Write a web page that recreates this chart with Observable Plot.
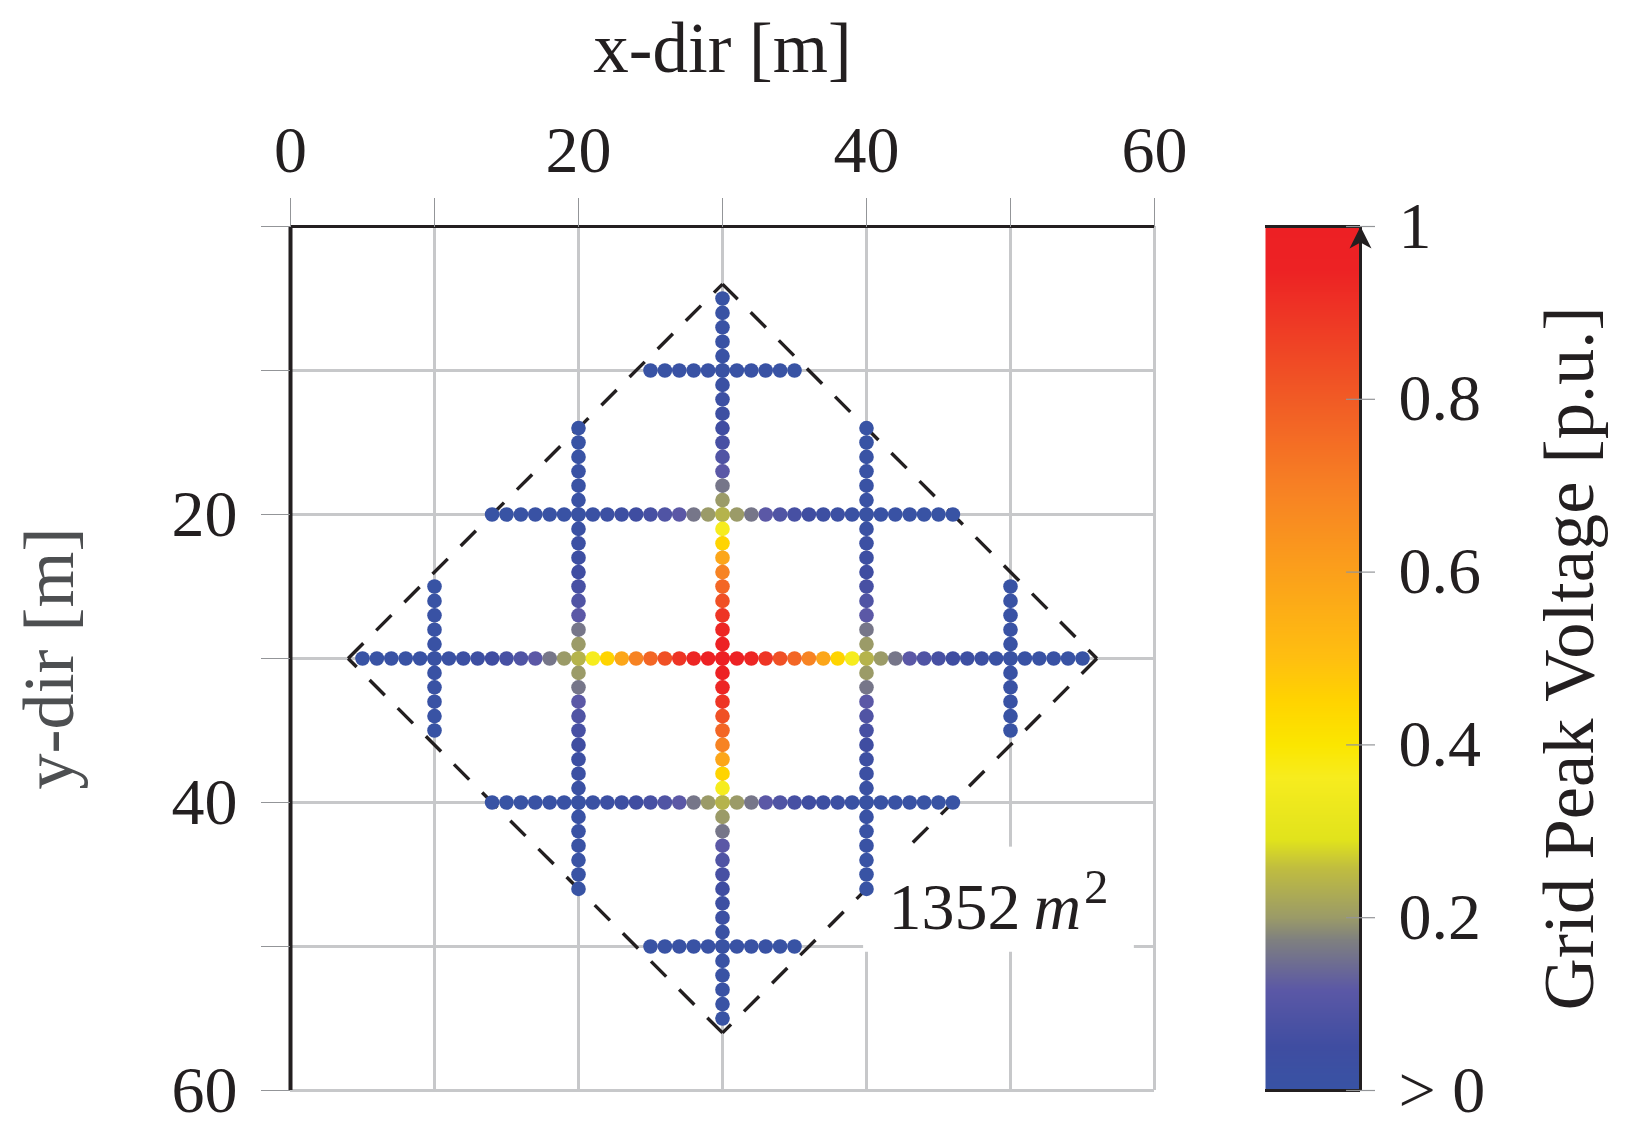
<!DOCTYPE html>
<html>
<head>
<meta charset="utf-8">
<script src="https://cdn.jsdelivr.net/npm/d3@7"></script>
<script src="https://cdn.jsdelivr.net/npm/@observablehq/plot@0.6"></script>
<style>
  html, body { margin: 0; padding: 0; background: white; }
  #chart { position: relative; width: 1634px; height: 1143px; overflow: hidden; }
  #chart svg { position: absolute; top: 0; }
  #chart svg text { font-family: "Liberation Serif", serif; }
</style>
</head>
<body>
<div id="chart"></div>
<script>
/* Var. globales */
const ink = '#231f20'
const gridGray = '#c7c8ca'
const tickGray = '#939598'
const fontSize = 66

// grid and ticks
const gridTicks = [0, 10, 20, 30, 40, 50, 60]
const labelledTicks = [20, 40, 60]

// conductor runs of the lightning grid, fixed coordinate + start/end (metres)
const rowsY = [30, 20, 40, 10, 50]
const rowsFrom = [5, 14, 14, 25, 25]
const rowsTo = [55, 46, 46, 35, 35]
const colsX = [30, 20, 40, 10, 50]
const colsFrom = [5, 14, 14, 25, 25]
const colsTo = [55, 46, 46, 35, 35]

// peak voltage read by path distance (m) from the injection point at 30,30
const voltageByDistance = [
  1, 0.97, 0.94, 0.9, 0.83, 0.77, 0.69, 0.58, 0.45, 0.36,
  0.24, 0.2, 0.16, 0.116, 0.09, 0.07, 0.05, 0.035, 0.025, 0.015,
  0.01, 0.008, 0.006, 0.005, 0.004, 0.003, 0.002
]

// dashed outline
const diamondX = [30, 56, 30, 4, 30]
const diamondY = [4, 30, 56, 30, 4]

// colour bar
const colorStops = [0, 0.05, 0.116, 0.174, 0.2, 0.257, 0.29, 0.362, 0.4, 0.45, 0.5, 0.6, 0.7, 0.8, 0.9, 0.95, 1]
const colorValues = ['#3853a4', '#3f4da1', '#5b58a6', '#7f8080', '#9b9b68', '#c0bd40', '#e1e31c', '#f7ec1e', '#fbe600',
  '#ffd400', '#ffbf10', '#fba01b', '#f78024', '#f15b25', '#ee3525', '#ed2224', '#ed2024']
const barTicks = [0, 0.2, 0.4, 0.6, 0.8, 1]

// white patch behind the area label
const patchX = [39.8, 58.6]
const patchY = [43.1, 50.4]

const colorScale = {type: 'linear', domain: colorStops, range: colorValues, interpolate: 'rgb'}

function buildNodes() {
  const nodes = []
  const add = (x, y) => nodes.push({x, y, v: voltageByDistance[Math.abs(x - 30) + Math.abs(y - 30)]})
  rowsY.forEach((y, i) => d3.range(rowsFrom[i], rowsTo[i] + 1).forEach(x => add(x, y)))
  colsX.forEach((x, i) => d3.range(colsFrom[i], colsTo[i] + 1).forEach(y => add(x, y)))
  // lowest first so the hot nodes stay on top at the crossings
  return nodes.sort((a, b) => a.v - b.v)
}

function createMap() {
  const edges = d3.pairs(d3.zip(diamondX, diamondY))
  return Plot.plot({
    width: 1200,
    height: 1143,
    marginLeft: 290,
    marginRight: 46,
    marginTop: 226,
    marginBottom: 53,
    style: {background: 'transparent', overflow: 'visible'},
    x: {domain: [0, 60]},
    y: {domain: [0, 60], reverse: true},
    color: colorScale,
    marks: [
      Plot.ruleX(gridTicks.slice(1), {y1: 0, y2: 60, stroke: gridGray, strokeWidth: 3}),
      Plot.ruleY(gridTicks.slice(1), {x1: 0, x2: 60, stroke: gridGray, strokeWidth: 3}),
      Plot.link(edges, {
        x1: d => d[0][0], y1: d => d[0][1],
        x2: d => d[1][0], y2: d => d[1][1],
        stroke: ink, strokeWidth: 3.4, strokeDasharray: '21.5,18.3'
      }),
      Plot.rect([0], {x1: patchX[0], x2: patchX[1], y1: patchY[0], y2: patchY[1], fill: 'white'}),
      Plot.ruleX([60], {y1: 0, y2: 60, stroke: gridGray, strokeWidth: 3}),
      Plot.dot(buildNodes(), {x: 'x', y: 'y', fill: 'v', r: 7.3}),
      Plot.ruleX([0], {y1: 0, y2: 60, stroke: ink, strokeWidth: 4}),
      Plot.ruleY([0], {x1: 0, x2: 60, stroke: ink, strokeWidth: 3}),
      Plot.axisX({
        anchor: 'top', ticks: gridTicks, tickSize: 29, tickPadding: 26,
        stroke: tickGray, strokeWidth: 1, fill: ink, fontSize,
        tickFormat: d => d % 20 === 0 ? d : '',
        label: null
      }),
      Plot.axisY({
        anchor: 'left', ticks: gridTicks, tickSize: 29, tickPadding: 24,
        stroke: tickGray, strokeWidth: 1, fill: ink, fontSize,
        tickFormat: d => labelledTicks.includes(d) ? d : '',
        label: null
      }),
      Plot.text(['x-dir [m]'], {
        x: 30, y: -10.76, fontSize: 71, fill: ink,
        textAnchor: 'middle', lineAnchor: 'bottom'
      }),
      Plot.text(['y-dir [m]'], {
        x: -15.1, y: 30, rotate: -90, fontSize: 72, fill: '#4d4f51',
        textAnchor: 'middle', lineAnchor: 'bottom'
      }),
      Plot.text(['1352'], {x: 41.53, y: 48.75, fontSize, fill: ink, textAnchor: 'start', lineAnchor: 'bottom'}),
      Plot.text(['m'], {x: 51.6, y: 48.75, fontSize, fill: ink, fontStyle: 'italic', textAnchor: 'start', lineAnchor: 'bottom'}),
      Plot.text(['2'], {x: 55.1, y: 47, fontSize: 49, fill: ink, textAnchor: 'start', lineAnchor: 'bottom'})
    ]
  })
}

// stealth arrow head, tip sits on the anchor point
const stealth = {
  draw(context, size) {
    const r = Math.sqrt(size / Math.PI)
    context.moveTo(0, 0)
    context.lineTo(r, 2 * r)
    context.lineTo(0, 1.45 * r)
    context.lineTo(-r, 2 * r)
    context.closePath()
  }
}

function createBar() {
  return Plot.plot({
    width: 434,
    height: 1143,
    marginLeft: 65,
    marginRight: 274,
    marginTop: 226,
    marginBottom: 53,
    style: {background: 'transparent', overflow: 'visible'},
    x: {domain: [0, 1], axis: null},
    y: {domain: [0, 1]},
    color: colorScale,
    marks: [
      Plot.raster({fill: (x, y) => y, x1: 0, x2: 1, y1: 0, y2: 1, width: 4, height: 864, imageRendering: 'auto'}),
      Plot.ruleY([0, 1], {x1: 0, x2: 1, stroke: ink, strokeWidth: 3}),
      Plot.ruleX([1], {y1: 0, y2: 1, stroke: ink, strokeWidth: 3}),
      Plot.dot([1], {x: 1, y: 1, r: 11, symbol: stealth, fill: ink, stroke: 'none'}),
      Plot.ruleY(barTicks, {x1: 0.853, x2: 1.158, stroke: tickGray, strokeWidth: 1.2}),
      Plot.axisY({
        anchor: 'right', ticks: barTicks, tickSize: 0, tickPadding: 38,
        fill: ink, fontSize,
        tickFormat: d => d === 0 ? '> 0' : d === 1 ? '1' : d3.format('.1f')(d),
        label: null
      }),
      Plot.text(['Grid Peak Voltage [p.u.]'], {
        x: 3.45, y: 0.5, rotate: -90, fontSize: 72.5, fill: ink,
        textAnchor: 'middle', lineAnchor: 'bottom'
      })
    ]
  })
}

const holder = d3.select('#chart')
holder.append(() => createMap()).style('left', '0px')
holder.append(() => createBar()).style('left', '1200px')
</script>
</body>
</html>
